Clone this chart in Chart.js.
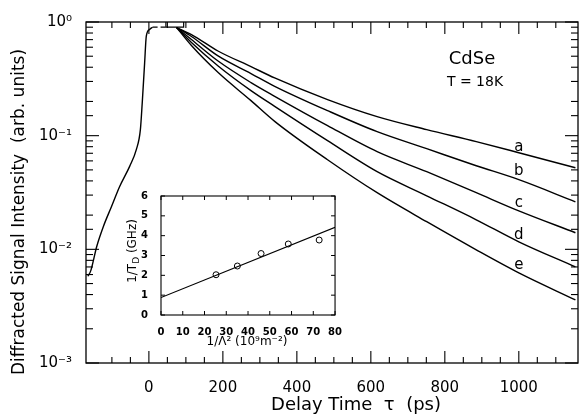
<!DOCTYPE html>
<html lang="en">
<head>
<meta charset="UTF-8">
<title>CdSe grating decay</title>
<script src="https://cdn.jsdelivr.net/npm/chart.js"></script>
<style>
  html, body { margin: 0; padding: 0; background: #fff; }
  #wrap { position: relative; width: 586px; height: 419px; }
  #main { position: absolute; left: 0; top: 0; }
  #inset { position: absolute; left: 115px; top: 185px; }
</style>
</head>
<body>
<div id="wrap">
  <canvas id="main" width="586" height="419"></canvas>
  <canvas id="inset" width="230" height="170"></canvas>
</div>
<script>
// rising edge of the signal (ps, arb. units)
const riseTime = [-165, -157, -141, -123, -101, -79, -52, -34, -23, -18, -11.5, -7, 2, 10];
const riseSignal = [0.0058, 0.0065, 0.0106, 0.0159, 0.0238, 0.0357, 0.0537, 0.0753, 0.113, 0.194, 0.437, 0.75, 0.86, 0.9];

// dashed plateau and the little box at the top
const dashTime = [10, 46];
const dashSignal = [0.9, 0.9];
const boxTime = [46, 46, 94, 94];
const boxSignal = [1, 0.9, 0.9, 1];

// decay curves a..e
const decayTime = [75, 115, 188, 276, 340, 483, 617, 751, 885, 1000, 1153];
const curveA = [0.894, 0.776, 0.553, 0.405, 0.322, 0.2076, 0.147, 0.1129, 0.0886, 0.0708, 0.0522];
const curveB = [0.894, 0.745, 0.500, 0.352, 0.272, 0.166, 0.1084, 0.0768, 0.0544, 0.0410, 0.0262];
const curveC = [0.894, 0.701, 0.451, 0.293, 0.222, 0.1225, 0.0723, 0.0482, 0.0315, 0.0218, 0.0140];
const curveD = [0.894, 0.660, 0.408, 0.249, 0.181, 0.0903, 0.0482, 0.0296, 0.0182, 0.01164, 0.00701];
const curveE = [0.894, 0.621, 0.357, 0.2034, 0.1337, 0.0614, 0.0315, 0.0175, 0.0099, 0.00621, 0.00359];
const curveNames = ['a', 'b', 'c', 'd', 'e'];
const nameSignal = [0.080, 0.0484, 0.0257, 0.0134, 0.0073];   // where the letters sit, at tau = 1000
const yTickLabels = ['10⁻³', '10⁻²', '10⁻¹', '10⁰'];

// inset: 1/T_D against 1/Lambda^2
const insetX = [25.3, 35.1, 46, 58.5, 72.7];
const insetRate = [2.03, 2.47, 3.1, 3.58, 3.78];
const fitX = [0, 80];
const fitRate = [0.88, 4.42];

Chart.defaults.font.family = 'DejaVu Sans';
Chart.defaults.color = '#000';

const pts = (xs, ys) => xs.map((x, i) => ({ x: x, y: ys[i] }));
const line = (data, extra) => Object.assign({
    data: data, borderColor: '#000', borderWidth: 1.4, pointRadius: 0,
    cubicInterpolationMode: 'monotone', fill: false
}, extra || {});

function stroke(ctx, x1, y1, x2, y2) {
    ctx.beginPath(); ctx.moveTo(x1, y1); ctx.lineTo(x2, y2); ctx.stroke();
}

// frame, inward ticks and the free text of the main plot
const mainDecor = {
    id: 'mainDecor',
    afterDraw(chart) {
        const { ctx, chartArea: a, scales: { x, y } } = chart;
        ctx.save();
        ctx.strokeStyle = '#000';
        ctx.lineWidth = 1.3;
        ctx.strokeRect(a.left, a.top, a.right - a.left, a.bottom - a.top);
        ctx.lineWidth = 1.1;
        x.ticks.forEach(t => {
            if (t.value % 50 !== 0) return;
            const px = x.getPixelForValue(t.value);
            const len = t.value % 200 === 0 ? 12 : 6;
            stroke(ctx, px, a.bottom, px, a.bottom - len);
            stroke(ctx, px, a.top, px, a.top + len);
        });
        y.ticks.forEach(t => {
            const e = Math.log10(t.value);
            const major = Math.abs(e - Math.round(e)) < 1e-6;
            const py = y.getPixelForValue(t.value);
            const len = major ? 13 : 7;
            stroke(ctx, a.left, py, a.left + len, py);
            stroke(ctx, a.right, py, a.right - len, py);
        });

        ctx.fillStyle = '#000';
        ctx.textAlign = 'center';
        ctx.textBaseline = 'middle';
        ctx.font = '18px DejaVu Sans';
        ctx.fillText('Delay Time  τ  (ps)', 356, 405);
        ctx.save();
        ctx.translate(20, 212);
        ctx.rotate(-Math.PI / 2);
        ctx.font = '17px DejaVu Sans';
        ctx.fillText('Diffracted Signal Intensity  (arb. units)', 0, 0);
        ctx.restore();

        ctx.font = '18px DejaVu Sans';
        ctx.fillText('CdSe', 472, 59);
        ctx.font = '14px DejaVu Sans';
        ctx.fillText('T = 18K', 475, 82);
        ctx.font = '15px DejaVu Sans';
        curveNames.forEach((n, i) => {
            ctx.fillText(n, x.getPixelForValue(1000), y.getPixelForValue(nameSignal[i]));
        });
        ctx.restore();
    }
};

new Chart(document.getElementById('main'), {
    type: 'line',
    data: {
        datasets: [
            line(pts(riseTime, riseSignal)),
            line(pts(dashTime, dashSignal), { borderDash: [5, 3], borderWidth: 1.2, cubicInterpolationMode: 'default', tension: 0 }),
            line(pts(boxTime, boxSignal), { borderWidth: 1.2, cubicInterpolationMode: 'default', tension: 0 }),
            line(pts(decayTime, curveA)),
            line(pts(decayTime, curveB)),
            line(pts(decayTime, curveC)),
            line(pts(decayTime, curveD)),
            line(pts(decayTime, curveE))
        ]
    },
    options: {
        responsive: false,
        animation: false,
        layout: { padding: { top: 22, right: 4, left: 0, bottom: 0 } },
        plugins: { legend: { display: false }, tooltip: { enabled: false } },
        scales: {
            x: {
                type: 'linear', min: -170, max: 1160,
                grid: { display: false }, border: { display: false },
                ticks: {
                    stepSize: 50, autoSkip: false, maxRotation: 0, padding: 8,
                    font: { size: 15 },
                    callback: v => (v % 200 === 0 ? String(v) : '')
                },
                afterFit: s => { s.height = 56; }
            },
            y: {
                type: 'logarithmic', min: 0.001, max: 1,
                grid: { display: false }, border: { display: false },
                ticks: {
                    autoSkip: false, padding: 6, font: { size: 15 },
                    callback: v => {
                        const e = Math.log10(v);
                        return Math.abs(e - Math.round(e)) < 1e-6 ? yTickLabels[Math.round(e) + 3] : '';
                    }
                },
                afterFit: s => { s.width = 86; }
            }
        }
    },
    plugins: [mainDecor]
});

// inset frame, ticks and axis titles
const insetDecor = {
    id: 'insetDecor',
    afterDraw(chart) {
        const { ctx, chartArea: a, scales: { x, y } } = chart;
        ctx.save();
        ctx.strokeStyle = '#000';
        ctx.lineWidth = 1.1;
        ctx.strokeRect(a.left, a.top, a.right - a.left, a.bottom - a.top);
        ctx.lineWidth = 1;
        x.ticks.forEach(t => {
            const px = x.getPixelForValue(t.value);
            stroke(ctx, px, a.bottom, px, a.bottom - 4);
            stroke(ctx, px, a.top, px, a.top + 4);
        });
        y.ticks.forEach(t => {
            const py = y.getPixelForValue(t.value);
            stroke(ctx, a.left, py, a.left + 4, py);
            stroke(ctx, a.right, py, a.right - 4, py);
        });

        ctx.fillStyle = '#000';
        ctx.textBaseline = 'middle';
        ctx.textAlign = 'center';
        ctx.font = '12px DejaVu Sans';
        ctx.fillText('1/Λ² (10⁹m⁻²)', 132, 157);

        // 1/T_D (GHz), written bottom to top with a subscript D
        ctx.save();
        ctx.translate(18, 66);
        ctx.rotate(-Math.PI / 2);
        ctx.textAlign = 'left';
        const big = '12px DejaVu Sans', small = '9px DejaVu Sans';
        ctx.font = big; const w1 = ctx.measureText('1/T').width;
        ctx.font = small; const w2 = ctx.measureText('D').width;
        ctx.font = big; const w3 = ctx.measureText(' (GHz)').width;
        let cx = -(w1 + w2 + w3) / 2;
        ctx.fillText('1/T', cx, 0); cx += w1;
        ctx.font = small; ctx.fillText('D', cx, 4); cx += w2;
        ctx.font = big; ctx.fillText(' (GHz)', cx, 0);
        ctx.restore();
        ctx.restore();
    }
};

new Chart(document.getElementById('inset'), {
    type: 'scatter',
    data: {
        datasets: [
            {
                data: pts(insetX, insetRate), pointStyle: 'circle', pointRadius: 3,
                borderColor: '#000', backgroundColor: 'rgba(0,0,0,0)', borderWidth: 1
            },
            {
                data: pts(fitX, fitRate), showLine: true, pointRadius: 0,
                borderColor: '#000', borderWidth: 1.2
            }
        ]
    },
    options: {
        responsive: false,
        animation: false,
        layout: { padding: { top: 10, right: 8, left: 0, bottom: 0 } },
        plugins: { legend: { display: false }, tooltip: { enabled: false } },
        scales: {
            x: {
                type: 'linear', min: 0, max: 80,
                grid: { display: false }, border: { display: false },
                ticks: { stepSize: 10, autoSkip: false, maxRotation: 0, padding: 3, font: { size: 10, weight: 'bold' } },
                afterFit: s => { s.height = 40; }
            },
            y: {
                type: 'linear', min: 0, max: 6,
                grid: { display: false }, border: { display: false },
                ticks: { stepSize: 1, autoSkip: false, padding: 5, font: { size: 10, weight: 'bold' } },
                afterFit: s => { s.width = 46; }
            }
        }
    },
    plugins: [insetDecor]
});
</script>
</body>
</html>
